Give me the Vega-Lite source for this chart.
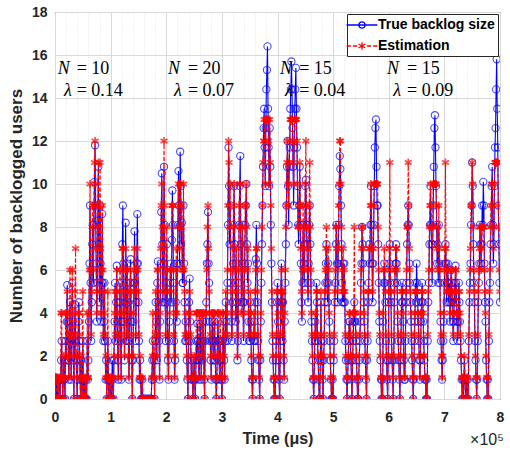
{
  "$schema": "https://vega.github.io/schema/vega-lite/v6.json",
  "width": 445,
  "height": 387,
  "autosize": {"type": "none"},
  "padding": {"left": 55, "top": 12, "right": 10, "bottom": 59},
  "background": "white",
  "config": {
    "view": {"stroke": "#262626", "strokeWidth": 1},
    "font": "Liberation Sans",
    "axis": {"labelFont": "Liberation Sans", "labelFontSize": 14, "labelFontWeight": "bold", "labelColor": "#262626", "titleFont": "Liberation Sans", "titleFontSize": 16, "titleFontWeight": "bold", "titleColor": "#262626", "domain": false, "ticks": false, "tickSize": 0, "labelOverlap": false, "labelFlush": false, "labelBound": false, "gridColor": "#dcdcdc"},
    "legend": {
      "orient": "top-right", "offset": 2, "fillColor": "white", "strokeColor": "#262626", "padding": 3,
      "labelFont": "Liberation Sans", "labelFontSize": 14, "labelFontWeight": "bold", "labelColor": "black",
      "symbolSize": 196, "symbolOffset": 4, "labelOffset": 8, "rowPadding": 6, "symbolStrokeWidth": 1.3, "symbolFillColor": "transparent"
    }
  },
  "title": {"text": "×10⁵", "orient": "bottom", "anchor": "end", "font": "Liberation Sans", "fontSize": 16, "fontWeight": "normal", "color": "#262626", "offset": -14},
  "resolve": {"axis": {"x": "independent"}},
  "data": {"values": [
{"t":0.00,"b":1.0,"e":1},{"t":0.01,"b":0,"e":0},{"t":0.02,"b":0,"e":1},{"t":0.03,"b":0.9,"e":1},{"t":0.04,"b":0,"e":0},{"t":0.05,"b":0,"e":0},{"t":0.06,"b":0.9,"e":1},{"t":0.07,"b":0,"e":0},{"t":0.08,"b":0.9,"e":1},{"t":0.09,"b":0,"e":0},
{"t":0.10,"b":0.9,"e":1},{"t":0.11,"b":1.8,"e":4},{"t":0.12,"b":2.7,"e":4},{"t":0.13,"b":0.9,"e":1},{"t":0.14,"b":0,"e":0},{"t":0.15,"b":0.9,"e":1},{"t":0.16,"b":1.8,"e":2},{"t":0.17,"b":0.9,"e":1},{"t":0.18,"b":0,"e":0},{"t":0.19,"b":2.7,"e":4},
{"t":0.20,"b":1.8,"e":2},{"t":0.21,"b":3.6,"e":4},{"t":0.22,"b":5.3,"e":5},{"t":0.23,"b":3.6,"e":4},{"t":0.24,"b":1.8,"e":2},{"t":0.25,"b":0.9,"e":1},{"t":0.26,"b":2.7,"e":3},{"t":0.27,"b":4.5,"e":6},{"t":0.28,"b":2.7,"e":3},{"t":0.29,"b":0.9,"e":1},
{"t":0.30,"b":2.7,"e":3},{"t":0.31,"b":5.4,"e":6},{"t":0.32,"b":3.6,"e":4},{"t":0.33,"b":1.8,"e":2},{"t":0.34,"b":0,"e":0},{"t":0.35,"b":2.7,"e":3},{"t":0.36,"b":4.4,"e":5},{"t":0.37,"b":2.7,"e":7},{"t":0.38,"b":1.8,"e":2},{"t":0.39,"b":0.9,"e":1},
{"t":0.40,"b":0,"e":0},{"t":0.41,"b":1.8,"e":2},{"t":0.42,"b":3.6,"e":4},{"t":0.43,"b":4.5,"e":4},{"t":0.44,"b":2.7,"e":3},{"t":0.45,"b":0.9,"e":1},{"t":0.46,"b":0,"e":0},{"t":0.47,"b":1.8,"e":2},{"t":0.48,"b":0.9,"e":1},{"t":0.49,"b":0,"e":0},
{"t":0.50,"b":2.7,"e":5},{"t":0.51,"b":0.9,"e":1},{"t":0.52,"b":0,"e":0},{"t":0.53,"b":0.9,"e":0},{"t":0.54,"b":0,"e":1},{"t":0.55,"b":0,"e":0},{"t":0.56,"b":0.9,"e":1},{"t":0.57,"b":0,"e":0},{"t":0.58,"b":2.7,"e":4},{"t":0.59,"b":0.9,"e":1},
{"t":0.60,"b":1.8,"e":1},{"t":0.61,"b":3.6,"e":4},{"t":0.62,"b":6.3,"e":6},{"t":0.63,"b":9.0,"e":10},{"t":0.64,"b":5.4,"e":6},{"t":0.65,"b":2.7,"e":3},{"t":0.66,"b":4.5,"e":5},{"t":0.67,"b":7.2,"e":8},{"t":0.68,"b":8.1,"e":9},{"t":0.69,"b":5.4,"e":6},
{"t":0.70,"b":8.1,"e":9},{"t":0.71,"b":10.1,"e":11},{"t":0.72,"b":11.8,"e":12},{"t":0.73,"b":9.0,"e":10},{"t":0.74,"b":6.3,"e":7},{"t":0.75,"b":3.6,"e":4},{"t":0.76,"b":5.4,"e":5},{"t":0.77,"b":8.3,"e":9},{"t":0.78,"b":10.8,"e":11},{"t":0.79,"b":7.2,"e":8},
{"t":0.80,"b":4.5,"e":5},{"t":0.81,"b":9.0,"e":11},{"t":0.82,"b":6.3,"e":7},{"t":0.83,"b":3.6,"e":4},{"t":0.84,"b":5.4,"e":6},{"t":0.85,"b":8.6,"e":9},{"t":0.86,"b":5.4,"e":6},{"t":0.87,"b":2.7,"e":3},{"t":0.88,"b":3.6,"e":4},{"t":0.89,"b":5.4,"e":5},
{"t":0.90,"b":2.7,"e":3},{"t":0.91,"b":0.9,"e":1},{"t":0.92,"b":1.8,"e":2},{"t":0.93,"b":0,"e":0},{"t":0.94,"b":0.9,"e":1},{"t":0.95,"b":2.7,"e":5},{"t":0.96,"b":0.9,"e":1},{"t":0.97,"b":0,"e":0},{"t":0.98,"b":0.9,"e":1},{"t":0.99,"b":0,"e":0},
{"t":1.00,"b":0,"e":1},{"t":1.01,"b":0.9,"e":1},{"t":1.02,"b":0,"e":0},{"t":1.03,"b":1.8,"e":1},{"t":1.04,"b":0.9,"e":1},{"t":1.05,"b":0,"e":0},{"t":1.06,"b":1.8,"e":2},{"t":1.07,"b":3.6,"e":4},{"t":1.08,"b":5.4,"e":5},{"t":1.09,"b":2.7,"e":3},
{"t":1.10,"b":4.5,"e":5},{"t":1.11,"b":6.2,"e":6},{"t":1.12,"b":3.6,"e":4},{"t":1.13,"b":1.8,"e":2},{"t":1.14,"b":0.9,"e":1},{"t":1.15,"b":2.7,"e":3},{"t":1.16,"b":4.5,"e":5},{"t":1.17,"b":5.4,"e":6},{"t":1.18,"b":2.7,"e":3},{"t":1.19,"b":0.9,"e":1},
{"t":1.20,"b":3.6,"e":4},{"t":1.21,"b":7.2,"e":7},{"t":1.22,"b":9.0,"e":7},{"t":1.23,"b":6.3,"e":6},{"t":1.24,"b":3.6,"e":4},{"t":1.25,"b":1.8,"e":2},{"t":1.26,"b":4.5,"e":5},{"t":1.27,"b":8.2,"e":7},{"t":1.28,"b":5.4,"e":6},{"t":1.29,"b":2.7,"e":3},
{"t":1.30,"b":6.3,"e":6},{"t":1.31,"b":4.5,"e":5},{"t":1.32,"b":2.7,"e":2},{"t":1.33,"b":0.9,"e":1},{"t":1.34,"b":2.7,"e":3},{"t":1.35,"b":5.4,"e":5},{"t":1.36,"b":6.5,"e":6},{"t":1.37,"b":3.6,"e":4},{"t":1.38,"b":1.8,"e":2},{"t":1.39,"b":0,"e":0},
{"t":1.40,"b":1.8,"e":2},{"t":1.41,"b":3.6,"e":4},{"t":1.42,"b":5.4,"e":5},{"t":1.43,"b":7.8,"e":7},{"t":1.44,"b":5.4,"e":6},{"t":1.45,"b":2.7,"e":3},{"t":1.46,"b":4.5,"e":5},{"t":1.47,"b":6.3,"e":6},{"t":1.48,"b":8.6,"e":7},{"t":1.49,"b":6.3,"e":6},
{"t":1.50,"b":4.5,"e":5},{"t":1.51,"b":2.7,"e":3},{"t":1.52,"b":0.9,"e":1},{"t":1.53,"b":1.8,"e":2},{"t":1.54,"b":0.9,"e":1},{"t":1.55,"b":0,"e":0},{"t":1.56,"b":0,"e":0},{"t":1.57,"b":0.9,"e":1},{"t":1.58,"b":0,"e":0},{"t":1.59,"b":0,"e":0},
{"t":1.60,"b":0,"e":0},{"t":1.61,"b":0,"e":0},{"t":1.62,"b":0,"e":0},{"t":1.63,"b":0,"e":0},{"t":1.64,"b":0,"e":0},{"t":1.65,"b":0,"e":0},{"t":1.66,"b":0,"e":0},{"t":1.67,"b":0,"e":0},{"t":1.68,"b":0,"e":0},{"t":1.69,"b":0,"e":0},
{"t":1.70,"b":0,"e":0},{"t":1.71,"b":0,"e":0},{"t":1.72,"b":0,"e":0},{"t":1.73,"b":0,"e":0},{"t":1.74,"b":0.9,"e":1},{"t":1.75,"b":1.8,"e":2},{"t":1.76,"b":2.7,"e":4},{"t":1.77,"b":0.9,"e":1},{"t":1.78,"b":1.8,"e":2},{"t":1.79,"b":0,"e":0},
{"t":1.80,"b":2.7,"e":3},{"t":1.81,"b":4.5,"e":5},{"t":1.82,"b":3.6,"e":4},{"t":1.83,"b":1.8,"e":2},{"t":1.84,"b":5.4,"e":6},{"t":1.85,"b":6.4,"e":6},{"t":1.86,"b":4.5,"e":5},{"t":1.87,"b":2.7,"e":3},{"t":1.88,"b":0.9,"e":1},{"t":1.89,"b":3.6,"e":4},
{"t":1.90,"b":6.3,"e":7},{"t":1.91,"b":8.7,"e":9},{"t":1.92,"b":10.5,"e":10},{"t":1.93,"b":7.2,"e":8},{"t":1.94,"b":4.5,"e":5},{"t":1.95,"b":6.3,"e":7},{"t":1.96,"b":10.8,"e":12},{"t":1.97,"b":8.1,"e":9},{"t":1.98,"b":4.5,"e":5},{"t":1.99,"b":2.7,"e":3},
{"t":2.00,"b":5.4,"e":6},{"t":2.01,"b":7.2,"e":8},{"t":2.02,"b":4.5,"e":5},{"t":2.03,"b":1.8,"e":2},{"t":2.04,"b":0.9,"e":1},{"t":2.05,"b":2.7,"e":3},{"t":2.06,"b":3.6,"e":4},{"t":2.07,"b":5.4,"e":6},{"t":2.08,"b":6.3,"e":6},{"t":2.09,"b":4.5,"e":5},
{"t":2.10,"b":7.4,"e":9},{"t":2.11,"b":9.7,"e":9},{"t":2.12,"b":8.1,"e":9},{"t":2.13,"b":5.4,"e":6},{"t":2.14,"b":2.7,"e":3},{"t":2.15,"b":0.9,"e":1},{"t":2.16,"b":1.8,"e":2},{"t":2.17,"b":4.5,"e":4},{"t":2.18,"b":6.3,"e":7},{"t":2.19,"b":3.6,"e":4},
{"t":2.20,"b":6.3,"e":6},{"t":2.21,"b":8.1,"e":8},{"t":2.22,"b":10.6,"e":10},{"t":2.23,"b":9.0,"e":9},{"t":2.24,"b":6.3,"e":7},{"t":2.25,"b":11.5,"e":10},{"t":2.26,"b":9.9,"e":10},{"t":2.27,"b":7.2,"e":8},{"t":2.28,"b":8.2,"e":9},{"t":2.29,"b":5.4,"e":6},
{"t":2.30,"b":5.4,"e":6},{"t":2.31,"b":9.0,"e":10},{"t":2.32,"b":6.3,"e":6},{"t":2.33,"b":4.5,"e":5},{"t":2.34,"b":2.7,"e":3},{"t":2.35,"b":3.6,"e":4},{"t":2.36,"b":2.7,"e":3},{"t":2.37,"b":1.8,"e":2},{"t":2.38,"b":0.9,"e":1},{"t":2.39,"b":0,"e":0},
{"t":2.40,"b":2.7,"e":3},{"t":2.41,"b":4.5,"e":4},{"t":2.42,"b":5.6,"e":5},{"t":2.43,"b":3.6,"e":4},{"t":2.44,"b":2.7,"e":3},{"t":2.45,"b":0.9,"e":1},{"t":2.46,"b":1.8,"e":2},{"t":2.47,"b":0.9,"e":1},{"t":2.48,"b":0,"e":0},{"t":2.49,"b":0.9,"e":1},
{"t":2.50,"b":1.8,"e":2},{"t":2.51,"b":0.9,"e":1},{"t":2.52,"b":0,"e":0},{"t":2.53,"b":0.9,"e":1},{"t":2.54,"b":2.7,"e":4},{"t":2.55,"b":1.8,"e":4},{"t":2.56,"b":3.5,"e":4},{"t":2.57,"b":2.7,"e":4},{"t":2.58,"b":1.8,"e":2},{"t":2.59,"b":0.9,"e":1},
{"t":2.60,"b":1.8,"e":4},{"t":2.61,"b":3.5,"e":4},{"t":2.62,"b":2.7,"e":4},{"t":2.63,"b":0.9,"e":1},{"t":2.64,"b":2.7,"e":4},{"t":2.65,"b":1.8,"e":2},{"t":2.66,"b":3.6,"e":4},{"t":2.67,"b":2.7,"e":4},{"t":2.68,"b":0.9,"e":1},{"t":2.69,"b":0,"e":0},
{"t":2.70,"b":2.7,"e":4},{"t":2.71,"b":3.6,"e":4},{"t":2.72,"b":4.5,"e":4},{"t":2.73,"b":6.3,"e":6},{"t":2.74,"b":7.2,"e":8},{"t":2.75,"b":8.7,"e":9},{"t":2.76,"b":6.3,"e":7},{"t":2.77,"b":5.4,"e":5},{"t":2.78,"b":3.6,"e":4},{"t":2.79,"b":2.7,"e":3},
{"t":2.80,"b":1.8,"e":2},{"t":2.81,"b":0.9,"e":1},{"t":2.82,"b":2.7,"e":4},{"t":2.83,"b":3.6,"e":4},{"t":2.84,"b":2.7,"e":4},{"t":2.85,"b":1.8,"e":2},{"t":2.86,"b":2.7,"e":4},{"t":2.87,"b":3.6,"e":4},{"t":2.88,"b":1.8,"e":2},{"t":2.89,"b":0.9,"e":1},
{"t":2.90,"b":0,"e":0},{"t":2.91,"b":0.9,"e":1},{"t":2.92,"b":2.7,"e":4},{"t":2.93,"b":3.6,"e":4},{"t":2.94,"b":2.7,"e":4},{"t":2.95,"b":1.8,"e":2},{"t":2.96,"b":0.9,"e":1},{"t":2.97,"b":2.7,"e":4},{"t":2.98,"b":1.8,"e":2},{"t":2.99,"b":0.9,"e":1},
{"t":3.00,"b":0,"e":0},{"t":3.01,"b":0.9,"e":1},{"t":3.02,"b":2.7,"e":4},{"t":3.03,"b":3.6,"e":4},{"t":3.04,"b":1.8,"e":2},{"t":3.05,"b":0.9,"e":1},{"t":3.06,"b":2.7,"e":3},{"t":3.07,"b":4.5,"e":5},{"t":3.08,"b":3.6,"e":4},{"t":3.09,"b":2.7,"e":3},
{"t":3.10,"b":5.4,"e":6},{"t":3.11,"b":8.1,"e":9},{"t":3.12,"b":11.7,"e":12},{"t":3.13,"b":9.9,"e":11},{"t":3.14,"b":7.2,"e":8},{"t":3.15,"b":9.0,"e":10},{"t":3.16,"b":5.4,"e":6},{"t":3.17,"b":3.6,"e":4},{"t":3.18,"b":2.7,"e":3},{"t":3.19,"b":4.5,"e":5},
{"t":3.20,"b":6.3,"e":7},{"t":3.21,"b":8.1,"e":9},{"t":3.22,"b":9.9,"e":10},{"t":3.23,"b":7.2,"e":8},{"t":3.24,"b":5.4,"e":6},{"t":3.25,"b":3.6,"e":4},{"t":3.26,"b":6.3,"e":7},{"t":3.27,"b":4.5,"e":5},{"t":3.28,"b":1.8,"e":2},{"t":3.29,"b":2.7,"e":3},
{"t":3.30,"b":5.4,"e":6},{"t":3.31,"b":8.1,"e":9},{"t":3.32,"b":9.9,"e":10},{"t":3.33,"b":11.3,"e":10},{"t":3.34,"b":7.2,"e":8},{"t":3.35,"b":4.5,"e":4},{"t":3.36,"b":6.3,"e":6},{"t":3.37,"b":8.1,"e":8},{"t":3.38,"b":4.5,"e":4},{"t":3.39,"b":2.7,"e":3},
{"t":3.40,"b":4.5,"e":5},{"t":3.41,"b":6.3,"e":6},{"t":3.42,"b":8.1,"e":9},{"t":3.43,"b":9.0,"e":9},{"t":3.44,"b":10.0,"e":10},{"t":3.45,"b":7.2,"e":8},{"t":3.46,"b":5.4,"e":6},{"t":3.47,"b":6.3,"e":7},{"t":3.48,"b":3.6,"e":4},{"t":3.49,"b":2.7,"e":3},
{"t":3.50,"b":2.7,"e":3},{"t":3.51,"b":4.5,"e":5},{"t":3.52,"b":3.6,"e":4},{"t":3.53,"b":1.8,"e":2},{"t":3.54,"b":0.9,"e":1},{"t":3.55,"b":0,"e":0},{"t":3.56,"b":0.9,"e":1},{"t":3.57,"b":2.7,"e":3},{"t":3.58,"b":3.6,"e":4},{"t":3.59,"b":2.7,"e":3},
{"t":3.60,"b":4.5,"e":5},{"t":3.61,"b":6.5,"e":6},{"t":3.62,"b":8.1,"e":7},{"t":3.63,"b":6.3,"e":7},{"t":3.64,"b":4.5,"e":5},{"t":3.65,"b":2.7,"e":3},{"t":3.66,"b":1.8,"e":2},{"t":3.67,"b":0.9,"e":1},{"t":3.68,"b":0,"e":0},{"t":3.69,"b":1.8,"e":2},
{"t":3.70,"b":3.6,"e":4},{"t":3.71,"b":5.4,"e":6},{"t":3.72,"b":7.2,"e":8},{"t":3.73,"b":9.0,"e":9},{"t":3.74,"b":10.8,"e":11},{"t":3.75,"b":12.6,"e":12},{"t":3.76,"b":13.5,"e":13},{"t":3.77,"b":11.7,"e":12},{"t":3.78,"b":9.9,"e":10},{"t":3.79,"b":12.6,"e":13},
{"t":3.80,"b":14.4,"e":13},{"t":3.81,"b":15.3,"e":13},{"t":3.82,"b":16.4,"e":13},{"t":3.83,"b":13.5,"e":13},{"t":3.84,"b":11.7,"e":12},{"t":3.85,"b":9.9,"e":10},{"t":3.86,"b":12.6,"e":13},{"t":3.87,"b":10.8,"e":11},{"t":3.88,"b":8.1,"e":9},{"t":3.89,"b":6.3,"e":7},
{"t":3.90,"b":4.5,"e":5},{"t":3.91,"b":2.7,"e":3},{"t":3.92,"b":1.8,"e":2},{"t":3.93,"b":0.9,"e":1},{"t":3.94,"b":0,"e":0},{"t":3.95,"b":0.9,"e":1},{"t":3.96,"b":0,"e":0},{"t":3.97,"b":1.8,"e":2},{"t":3.98,"b":2.7,"e":3},{"t":3.99,"b":4.5,"e":5},
{"t":4.00,"b":5.4,"e":5},{"t":4.01,"b":3.6,"e":4},{"t":4.02,"b":1.8,"e":2},{"t":4.03,"b":0.9,"e":1},{"t":4.04,"b":0,"e":0},{"t":4.05,"b":2.7,"e":3},{"t":4.06,"b":4.5,"e":5},{"t":4.07,"b":6.3,"e":6},{"t":4.08,"b":4.5,"e":5},{"t":4.09,"b":2.7,"e":3},
{"t":4.10,"b":4.5,"e":5},{"t":4.11,"b":1.8,"e":2},{"t":4.12,"b":0.9,"e":1},{"t":4.13,"b":3.6,"e":4},{"t":4.14,"b":5.4,"e":6},{"t":4.15,"b":7.2,"e":8},{"t":4.16,"b":9.0,"e":9},{"t":4.17,"b":10.8,"e":11},{"t":4.18,"b":12.0,"e":12},{"t":4.19,"b":9.9,"e":10},
{"t":4.20,"b":8.1,"e":9},{"t":4.21,"b":10.8,"e":11},{"t":4.22,"b":11.7,"e":12},{"t":4.23,"b":13.5,"e":13},{"t":4.24,"b":14.4,"e":13},{"t":4.25,"b":15.7,"e":13},{"t":4.26,"b":14.4,"e":13},{"t":4.27,"b":12.6,"e":13},{"t":4.28,"b":10.8,"e":11},{"t":4.29,"b":9.0,"e":10},
{"t":4.30,"b":11.7,"e":12},{"t":4.31,"b":13.5,"e":13},{"t":4.32,"b":14.4,"e":13},{"t":4.33,"b":15.4,"e":13},{"t":4.34,"b":13.5,"e":13},{"t":4.35,"b":11.7,"e":12},{"t":4.36,"b":9.9,"e":10},{"t":4.37,"b":8.1,"e":8},{"t":4.38,"b":7.2,"e":8},{"t":4.39,"b":9.0,"e":9},
{"t":4.40,"b":10.8,"e":11},{"t":4.41,"b":8.1,"e":9},{"t":4.42,"b":6.3,"e":7},{"t":4.43,"b":4.5,"e":5},{"t":4.44,"b":3.6,"e":4},{"t":4.45,"b":5.4,"e":6},{"t":4.46,"b":8.1,"e":9},{"t":4.47,"b":6.3,"e":7},{"t":4.48,"b":5.4,"e":6},{"t":4.49,"b":7.2,"e":8},
{"t":4.50,"b":9.9,"e":10},{"t":4.51,"b":10.2,"e":12},{"t":4.52,"b":8.1,"e":9},{"t":4.53,"b":7.2,"e":8},{"t":4.54,"b":5.4,"e":6},{"t":4.55,"b":4.5,"e":5},{"t":4.56,"b":6.3,"e":7},{"t":4.57,"b":8.1,"e":9},{"t":4.58,"b":9.0,"e":11},{"t":4.59,"b":7.2,"e":8},
{"t":4.60,"b":5.4,"e":6},{"t":4.61,"b":3.6,"e":4},{"t":4.62,"b":2.7,"e":3},{"t":4.63,"b":1.8,"e":2},{"t":4.64,"b":0.9,"e":1},{"t":4.65,"b":0,"e":0},{"t":4.66,"b":0.9,"e":1},{"t":4.67,"b":2.7,"e":3},{"t":4.68,"b":3.6,"e":4},{"t":4.69,"b":2.7,"e":3},
{"t":4.70,"b":5.4,"e":5},{"t":4.71,"b":4.5,"e":5},{"t":4.72,"b":2.7,"e":3},{"t":4.73,"b":1.8,"e":2},{"t":4.74,"b":0.9,"e":1},{"t":4.75,"b":0,"e":0},{"t":4.76,"b":0,"e":0},{"t":4.77,"b":1.8,"e":2},{"t":4.78,"b":4.5,"e":5},{"t":4.79,"b":2.7,"e":3},
{"t":4.80,"b":1.8,"e":2},{"t":4.81,"b":0.9,"e":1},{"t":4.82,"b":0,"e":0},{"t":4.83,"b":1.8,"e":2},{"t":4.84,"b":2.7,"e":3},{"t":4.85,"b":4.5,"e":5},{"t":4.86,"b":5.4,"e":6},{"t":4.87,"b":6.3,"e":7},{"t":4.88,"b":7.2,"e":8},{"t":4.89,"b":5.4,"e":6},
{"t":4.90,"b":4.5,"e":5},{"t":4.91,"b":6.3,"e":7},{"t":4.92,"b":5.4,"e":6},{"t":4.93,"b":3.6,"e":4},{"t":4.94,"b":2.7,"e":3},{"t":4.95,"b":1.8,"e":2},{"t":4.96,"b":0.9,"e":1},{"t":4.97,"b":0,"e":0},{"t":4.98,"b":0,"e":0},{"t":4.99,"b":0.9,"e":1},
{"t":5.00,"b":0,"e":0},{"t":5.01,"b":1.8,"e":2},{"t":5.02,"b":2.7,"e":3},{"t":5.03,"b":4.5,"e":5},{"t":5.04,"b":5.4,"e":6},{"t":5.05,"b":7.2,"e":8},{"t":5.06,"b":8.1,"e":8},{"t":5.07,"b":6.3,"e":7},{"t":5.08,"b":4.5,"e":5},{"t":5.09,"b":6.3,"e":7},
{"t":5.10,"b":8.1,"e":9},{"t":5.11,"b":9.9,"e":10},{"t":5.12,"b":11.3,"e":12},{"t":5.13,"b":10.7,"e":12},{"t":5.14,"b":9.0,"e":10},{"t":5.15,"b":7.2,"e":8},{"t":5.16,"b":5.4,"e":6},{"t":5.17,"b":4.5,"e":5},{"t":5.18,"b":6.3,"e":7},{"t":5.19,"b":4.5,"e":5},
{"t":5.20,"b":6.3,"e":6},{"t":5.21,"b":4.5,"e":5},{"t":5.22,"b":2.7,"e":3},{"t":5.23,"b":1.8,"e":2},{"t":5.24,"b":0.9,"e":1},{"t":5.25,"b":0,"e":0},{"t":5.26,"b":0.9,"e":1},{"t":5.27,"b":1.8,"e":2},{"t":5.28,"b":2.7,"e":3},{"t":5.29,"b":3.6,"e":4},
{"t":5.30,"b":3.6,"e":4},{"t":5.31,"b":2.7,"e":3},{"t":5.32,"b":1.8,"e":2},{"t":5.33,"b":0.9,"e":1},{"t":5.34,"b":0,"e":0},{"t":5.35,"b":1.8,"e":2},{"t":5.36,"b":2.7,"e":4},{"t":5.37,"b":3.6,"e":4},{"t":5.38,"b":4.5,"e":8},{"t":5.39,"b":3.6,"e":4},
{"t":5.40,"b":3.6,"e":4},{"t":5.41,"b":2.7,"e":3},{"t":5.42,"b":1.8,"e":2},{"t":5.43,"b":0.9,"e":1},{"t":5.44,"b":0,"e":0},{"t":5.45,"b":0,"e":0},{"t":5.46,"b":0.9,"e":1},{"t":5.47,"b":1.8,"e":2},{"t":5.48,"b":2.7,"e":3},{"t":5.49,"b":3.6,"e":4},
{"t":5.50,"b":5.4,"e":6},{"t":5.51,"b":6.3,"e":7},{"t":5.52,"b":8.0,"e":8},{"t":5.53,"b":7.2,"e":8},{"t":5.54,"b":6.3,"e":7},{"t":5.55,"b":4.5,"e":5},{"t":5.56,"b":3.6,"e":4},{"t":5.57,"b":2.7,"e":3},{"t":5.58,"b":1.8,"e":2},{"t":5.59,"b":0.9,"e":1},
{"t":5.60,"b":0,"e":0},{"t":5.61,"b":1.8,"e":2},{"t":5.62,"b":2.7,"e":3},{"t":5.63,"b":4.5,"e":5},{"t":5.64,"b":5.4,"e":5},{"t":5.65,"b":7.2,"e":7},{"t":5.66,"b":6.3,"e":7},{"t":5.67,"b":8.1,"e":9},{"t":5.68,"b":9.9,"e":10},{"t":5.69,"b":8.1,"e":9},
{"t":5.70,"b":6.3,"e":7},{"t":5.71,"b":4.5,"e":5},{"t":5.72,"b":6.3,"e":7},{"t":5.73,"b":8.1,"e":9},{"t":5.74,"b":9.9,"e":10},{"t":5.75,"b":11.7,"e":10},{"t":5.76,"b":12.6,"e":10},{"t":5.77,"b":13.0,"e":10},{"t":5.78,"b":10.8,"e":10},{"t":5.79,"b":9.0,"e":10},
{"t":5.80,"b":9.0,"e":10},{"t":5.81,"b":7.2,"e":8},{"t":5.82,"b":5.4,"e":6},{"t":5.83,"b":3.6,"e":4},{"t":5.84,"b":2.7,"e":3},{"t":5.85,"b":1.8,"e":2},{"t":5.86,"b":0.9,"e":1},{"t":5.87,"b":0,"e":0},{"t":5.88,"b":0.9,"e":1},{"t":5.89,"b":0,"e":0},
{"t":5.90,"b":3.6,"e":4},{"t":5.91,"b":5.4,"e":6},{"t":5.92,"b":6.3,"e":7},{"t":5.93,"b":5.4,"e":6},{"t":5.94,"b":4.5,"e":5},{"t":5.95,"b":2.7,"e":3},{"t":5.96,"b":1.8,"e":2},{"t":5.97,"b":0.9,"e":1},{"t":5.98,"b":0,"e":0},{"t":5.99,"b":1.8,"e":2},
{"t":6.00,"b":4.5,"e":5},{"t":6.01,"b":6.3,"e":7},{"t":6.02,"b":7.2,"e":11},{"t":6.03,"b":5.4,"e":6},{"t":6.04,"b":4.5,"e":5},{"t":6.05,"b":2.7,"e":3},{"t":6.06,"b":1.8,"e":2},{"t":6.07,"b":0.9,"e":1},{"t":6.08,"b":0,"e":0},{"t":6.09,"b":1.8,"e":2},
{"t":6.10,"b":4.5,"e":5},{"t":6.11,"b":5.4,"e":6},{"t":6.12,"b":6.3,"e":6},{"t":6.13,"b":7.2,"e":7},{"t":6.14,"b":6.3,"e":7},{"t":6.15,"b":5.4,"e":6},{"t":6.16,"b":3.6,"e":4},{"t":6.17,"b":2.7,"e":3},{"t":6.18,"b":1.8,"e":2},{"t":6.19,"b":0.9,"e":1},
{"t":6.20,"b":0,"e":0},{"t":6.21,"b":1.8,"e":2},{"t":6.22,"b":2.7,"e":3},{"t":6.23,"b":4.5,"e":5},{"t":6.24,"b":5.4,"e":5},{"t":6.25,"b":4.5,"e":5},{"t":6.26,"b":3.6,"e":4},{"t":6.27,"b":1.8,"e":2},{"t":6.28,"b":0.9,"e":1},{"t":6.29,"b":0.9,"e":1},
{"t":6.30,"b":2.7,"e":3},{"t":6.31,"b":4.5,"e":5},{"t":6.32,"b":5.4,"e":6},{"t":6.33,"b":7.2,"e":8},{"t":6.34,"b":8.1,"e":8},{"t":6.35,"b":9.0,"e":11},{"t":6.36,"b":8.1,"e":9},{"t":6.37,"b":6.3,"e":7},{"t":6.38,"b":5.4,"e":6},{"t":6.39,"b":4.5,"e":5},
{"t":6.40,"b":3.6,"e":4},{"t":6.41,"b":2.7,"e":3},{"t":6.42,"b":1.8,"e":2},{"t":6.43,"b":0.9,"e":1},{"t":6.44,"b":0,"e":0},{"t":6.45,"b":0.9,"e":1},{"t":6.46,"b":2.7,"e":3},{"t":6.47,"b":3.6,"e":4},{"t":6.48,"b":5.4,"e":5},{"t":6.49,"b":4.5,"e":5},
{"t":6.50,"b":6.3,"e":5},{"t":6.51,"b":5.4,"e":5},{"t":6.52,"b":4.5,"e":4},{"t":6.53,"b":3.6,"e":4},{"t":6.54,"b":2.7,"e":3},{"t":6.55,"b":1.8,"e":2},{"t":6.56,"b":0.9,"e":1},{"t":6.57,"b":1.8,"e":2},{"t":6.58,"b":3.6,"e":4},{"t":6.59,"b":4.5,"e":4},
{"t":6.60,"b":5.4,"e":5},{"t":6.61,"b":4.5,"e":5},{"t":6.62,"b":3.6,"e":4},{"t":6.63,"b":2.7,"e":2},{"t":6.64,"b":1.8,"e":2},{"t":6.65,"b":0.9,"e":1},{"t":6.66,"b":0.9,"e":1},{"t":6.67,"b":0,"e":0},{"t":6.68,"b":0.9,"e":1},{"t":6.69,"b":0,"e":0},
{"t":6.70,"b":2.7,"e":3},{"t":6.71,"b":4.5,"e":5},{"t":6.72,"b":5.4,"e":6},{"t":6.73,"b":7.2,"e":8},{"t":6.74,"b":8.1,"e":9},{"t":6.75,"b":9.9,"e":10},{"t":6.76,"b":8.1,"e":9},{"t":6.77,"b":7.2,"e":8},{"t":6.78,"b":5.4,"e":6},{"t":6.79,"b":7.2,"e":8},
{"t":6.80,"b":9.0,"e":10},{"t":6.81,"b":10.8,"e":10},{"t":6.82,"b":12.6,"e":10},{"t":6.83,"b":13.2,"e":10},{"t":6.84,"b":11.7,"e":10},{"t":6.85,"b":9.9,"e":10},{"t":6.86,"b":8.1,"e":9},{"t":6.87,"b":6.3,"e":7},{"t":6.88,"b":7.2,"e":8},{"t":6.89,"b":5.4,"e":6},
{"t":6.90,"b":8.1,"e":9},{"t":6.91,"b":6.3,"e":7},{"t":6.92,"b":5.4,"e":6},{"t":6.93,"b":3.6,"e":4},{"t":6.94,"b":2.7,"e":3},{"t":6.95,"b":1.8,"e":2},{"t":6.96,"b":0.9,"e":1},{"t":6.97,"b":1.8,"e":2},{"t":6.98,"b":2.7,"e":3},{"t":6.99,"b":3.6,"e":4},
{"t":7.00,"b":5.4,"e":6},{"t":7.01,"b":6.3,"e":7},{"t":7.02,"b":7.2,"e":11},{"t":7.03,"b":6.3,"e":7},{"t":7.04,"b":4.5,"e":5},{"t":7.05,"b":5.4,"e":6},{"t":7.06,"b":6.3,"e":6},{"t":7.07,"b":5.4,"e":5},{"t":7.08,"b":4.5,"e":5},{"t":7.09,"b":5.4,"e":5},
{"t":7.10,"b":3.6,"e":4},{"t":7.11,"b":4.5,"e":5},{"t":7.12,"b":6.0,"e":6},{"t":7.13,"b":5.4,"e":6},{"t":7.14,"b":4.5,"e":5},{"t":7.15,"b":3.6,"e":4},{"t":7.16,"b":2.7,"e":3},{"t":7.17,"b":3.6,"e":4},{"t":7.18,"b":5.4,"e":5},{"t":7.19,"b":4.5,"e":5},
{"t":7.20,"b":6.2,"e":6},{"t":7.21,"b":5.4,"e":6},{"t":7.22,"b":4.5,"e":4},{"t":7.23,"b":3.6,"e":4},{"t":7.24,"b":2.7,"e":3},{"t":7.25,"b":3.6,"e":4},{"t":7.26,"b":5.4,"e":5},{"t":7.27,"b":4.5,"e":5},{"t":7.28,"b":3.6,"e":4},{"t":7.29,"b":2.7,"e":3},
{"t":7.30,"b":1.8,"e":2},{"t":7.31,"b":0.9,"e":1},{"t":7.32,"b":0,"e":0},{"t":7.33,"b":0.9,"e":1},{"t":7.34,"b":0,"e":0},{"t":7.35,"b":0.9,"e":1},{"t":7.36,"b":1.8,"e":2},{"t":7.37,"b":0.9,"e":1},{"t":7.38,"b":0,"e":0},{"t":7.39,"b":0,"e":0},
{"t":7.40,"b":0.9,"e":1},{"t":7.41,"b":0,"e":0},{"t":7.42,"b":0.9,"e":1},{"t":7.43,"b":0,"e":0},{"t":7.44,"b":2.7,"e":3},{"t":7.45,"b":4.5,"e":5},{"t":7.46,"b":5.4,"e":6},{"t":7.47,"b":6.3,"e":7},{"t":7.48,"b":8.1,"e":9},{"t":7.49,"b":9.0,"e":9},
{"t":7.50,"b":11.0,"e":11},{"t":7.51,"b":9.9,"e":10},{"t":7.52,"b":7.2,"e":8},{"t":7.53,"b":5.4,"e":6},{"t":7.54,"b":4.5,"e":5},{"t":7.55,"b":2.7,"e":3},{"t":7.56,"b":1.8,"e":2},{"t":7.57,"b":0.9,"e":1},{"t":7.58,"b":0,"e":0},{"t":7.59,"b":0.9,"e":1},
{"t":7.60,"b":2.7,"e":3},{"t":7.61,"b":4.5,"e":5},{"t":7.62,"b":5.4,"e":6},{"t":7.63,"b":6.3,"e":7},{"t":7.64,"b":8.1,"e":8},{"t":7.65,"b":7.2,"e":8},{"t":7.66,"b":6.3,"e":6},{"t":7.67,"b":7.2,"e":7},{"t":7.68,"b":9.0,"e":8},{"t":7.69,"b":8.1,"e":8},
{"t":7.70,"b":10.1,"e":8},{"t":7.71,"b":9.0,"e":8},{"t":7.72,"b":6.3,"e":6},{"t":7.73,"b":4.5,"e":5},{"t":7.74,"b":3.6,"e":4},{"t":7.75,"b":1.8,"e":2},{"t":7.76,"b":0.9,"e":1},{"t":7.77,"b":0,"e":0},{"t":7.78,"b":0.9,"e":1},{"t":7.79,"b":0,"e":0},
{"t":7.80,"b":2.7,"e":3},{"t":7.81,"b":4.5,"e":5},{"t":7.82,"b":5.4,"e":6},{"t":7.83,"b":7.2,"e":8},{"t":7.84,"b":8.1,"e":9},{"t":7.85,"b":9.9,"e":10},{"t":7.86,"b":10.8,"e":10},{"t":7.87,"b":8.1,"e":9},{"t":7.88,"b":6.3,"e":7},{"t":7.89,"b":7.2,"e":8},
{"t":7.90,"b":9.9,"e":10},{"t":7.91,"b":11.7,"e":11},{"t":7.92,"b":12.6,"e":11},{"t":7.93,"b":14.4,"e":11},{"t":7.94,"b":15.8,"e":11},{"t":7.95,"b":13.5,"e":11},{"t":7.96,"b":11.7,"e":11},{"t":7.97,"b":9.0,"e":9},{"t":7.98,"b":7.2,"e":8},{"t":7.99,"b":5.4,"e":6},
{"t":8.00,"b":4.5,"e":5}
  ]},
  "layer": [
    {
      "mark": {"type": "line", "strokeWidth": 1.1, "clip": true},
      "encoding": {
        "x": {"field": "t", "type": "quantitative", "scale": {"domain": [0, 8], "nice": false, "zero": false},
          "axis": {"orient": "bottom", "title": null, "labels": false, "ticks": false, "domain": false, "grid": true, "gridDash": [1, 2], "gridColor": "#e2e2e2",
            "values": [0.2,0.4,0.6,0.8,1.2,1.4,1.6,1.8,2.2,2.4,2.6,2.8,3.2,3.4,3.6,3.8,4.2,4.4,4.6,4.8,5.2,5.4,5.6,5.8,6.2,6.4,6.6,6.8,7.2,7.4,7.6,7.8]}},
        "y": {"field": "b", "type": "quantitative", "scale": {"domain": [0, 18], "nice": false},
          "axis": {"title": "Number of backlogged users", "values": [0,0.5,1,1.5,2,2.5,3,3.5,4,4.5,5,5.5,6,6.5,7,7.5,8,8.5,9,9.5,10,10.5,11,11.5,12,12.5,13,13.5,14,14.5,15,15.5,16,16.5,17,17.5,18],
            "labelExpr": "datum.value % 2 === 0 ? format(datum.value, 'd') : ''", "grid": true, "labelOverlap": false,
            "gridDash": {"condition": {"test": "datum.value % 2 !== 0", "value": [1, 2]}, "value": []},
            "gridColor": {"condition": {"test": "datum.value % 2 !== 0", "value": "#e2e2e2"}, "value": "#d9d9d9"},
            "labelPadding": 8, "titlePadding": 6, "titleFontSize": 17}},
        "color": {"datum": "True backlog size", "type": "nominal",
          "scale": {"domain": ["True backlog size", "Estimation"], "range": ["#0000ff", "#ff0000"]},
          "legend": {"title": null,
            "encode": {"symbols": {"update": {
              "shape": {"signal": "datum.value === 'Estimation' ? 'M-2.2,0L-1.6,0M-1.3,0L-0.7,0M0.7,0L1.3,0M1.6,0L2.2,0M0,-0.55L0,0.55M-0.48,-0.28L0.48,0.28M-0.48,0.28L0.48,-0.28' : 'M-2.2,0L2.2,0M-0.45,0A0.45,0.45 0 1,1 0.45,0A0.45,0.45 0 1,1 -0.45,0'"},
              "fill": {"value": "transparent"},
              "strokeWidth": {"value": 1.3}
            }}}}}
      }
    },
    {
      "mark": {"type": "point", "shape": "circle", "filled": false, "size": 52, "color": "#0000ff", "strokeWidth": 1.1, "clip": true},
      "encoding": {
        "x": {"field": "t", "type": "quantitative", "scale": {"domain": [0, 8], "nice": false, "zero": false},
          "axis": {"orient": "bottom", "title": "Time (μs)", "values": [0,1,2,3,4,5,6,7,8], "format": "d", "grid": true, "gridColor": "#d9d9d9", "labelOverlap": false, "labelFlush": false, "labelPadding": 11, "titlePadding": 6}},
        "y": {"field": "b", "type": "quantitative", "scale": {"domain": [0, 18], "nice": false}}
      }
    },
    {
      "mark": {"type": "line", "strokeWidth": 1.1, "strokeDash": [4, 2], "clip": true},
      "encoding": {
        "x": {"field": "t", "type": "quantitative", "axis": null},
        "y": {"field": "e", "type": "quantitative", "scale": {"domain": [0, 18], "nice": false}},
        "color": {"datum": "Estimation", "type": "nominal"}
      }
    },
    {
      "mark": {"type": "point", "shape": "M0,-1L0,1M-0.87,-0.5L0.87,0.5M-0.87,0.5L0.87,-0.5", "filled": false, "size": 64, "color": "#ff0000", "strokeWidth": 1.7, "clip": true},
      "encoding": {
        "x": {"field": "t", "type": "quantitative", "axis": null},
        "y": {"field": "e", "type": "quantitative", "scale": {"domain": [0, 18], "nice": false}}
      }
    },
    {
      "data": {"values": [
        {"t": 0.05, "y": 15.37, "s": "N"}, {"t": 0.16, "y": 14.33, "s": "λ"},
        {"t": 2.03, "y": 15.37, "s": "N"}, {"t": 2.14, "y": 14.33, "s": "λ"},
        {"t": 4.045, "y": 15.37, "s": "N"}, {"t": 4.135, "y": 14.33, "s": "λ"},
        {"t": 5.97, "y": 15.37, "s": "N"}, {"t": 6.08, "y": 14.33, "s": "λ"}
      ]},
      "mark": {"type": "text", "font": "Liberation Serif", "fontStyle": "italic", "fontSize": 18, "align": "left", "baseline": "middle", "color": "black"},
      "encoding": {
        "x": {"field": "t", "type": "quantitative", "axis": null},
        "y": {"field": "y", "type": "quantitative", "scale": {"domain": [0, 18], "nice": false}},
        "text": {"field": "s"}
      }
    },
    {
      "data": {"values": [
        {"t": 0.39, "y": 15.37, "s": "= 10"}, {"t": 0.39, "y": 14.33, "s": "= 0.14"},
        {"t": 2.39, "y": 15.37, "s": "= 20"}, {"t": 2.39, "y": 14.33, "s": "= 0.07"},
        {"t": 4.39, "y": 15.37, "s": "= 15"}, {"t": 4.39, "y": 14.33, "s": "= 0.04"},
        {"t": 6.33, "y": 15.37, "s": "= 15"}, {"t": 6.33, "y": 14.33, "s": "= 0.09"}
      ]},
      "mark": {"type": "text", "font": "Liberation Serif", "fontSize": 18, "align": "left", "baseline": "middle", "color": "black"},
      "encoding": {
        "x": {"field": "t", "type": "quantitative", "axis": null},
        "y": {"field": "y", "type": "quantitative", "scale": {"domain": [0, 18], "nice": false}},
        "text": {"field": "s"}
      }
    }
  ]
}
